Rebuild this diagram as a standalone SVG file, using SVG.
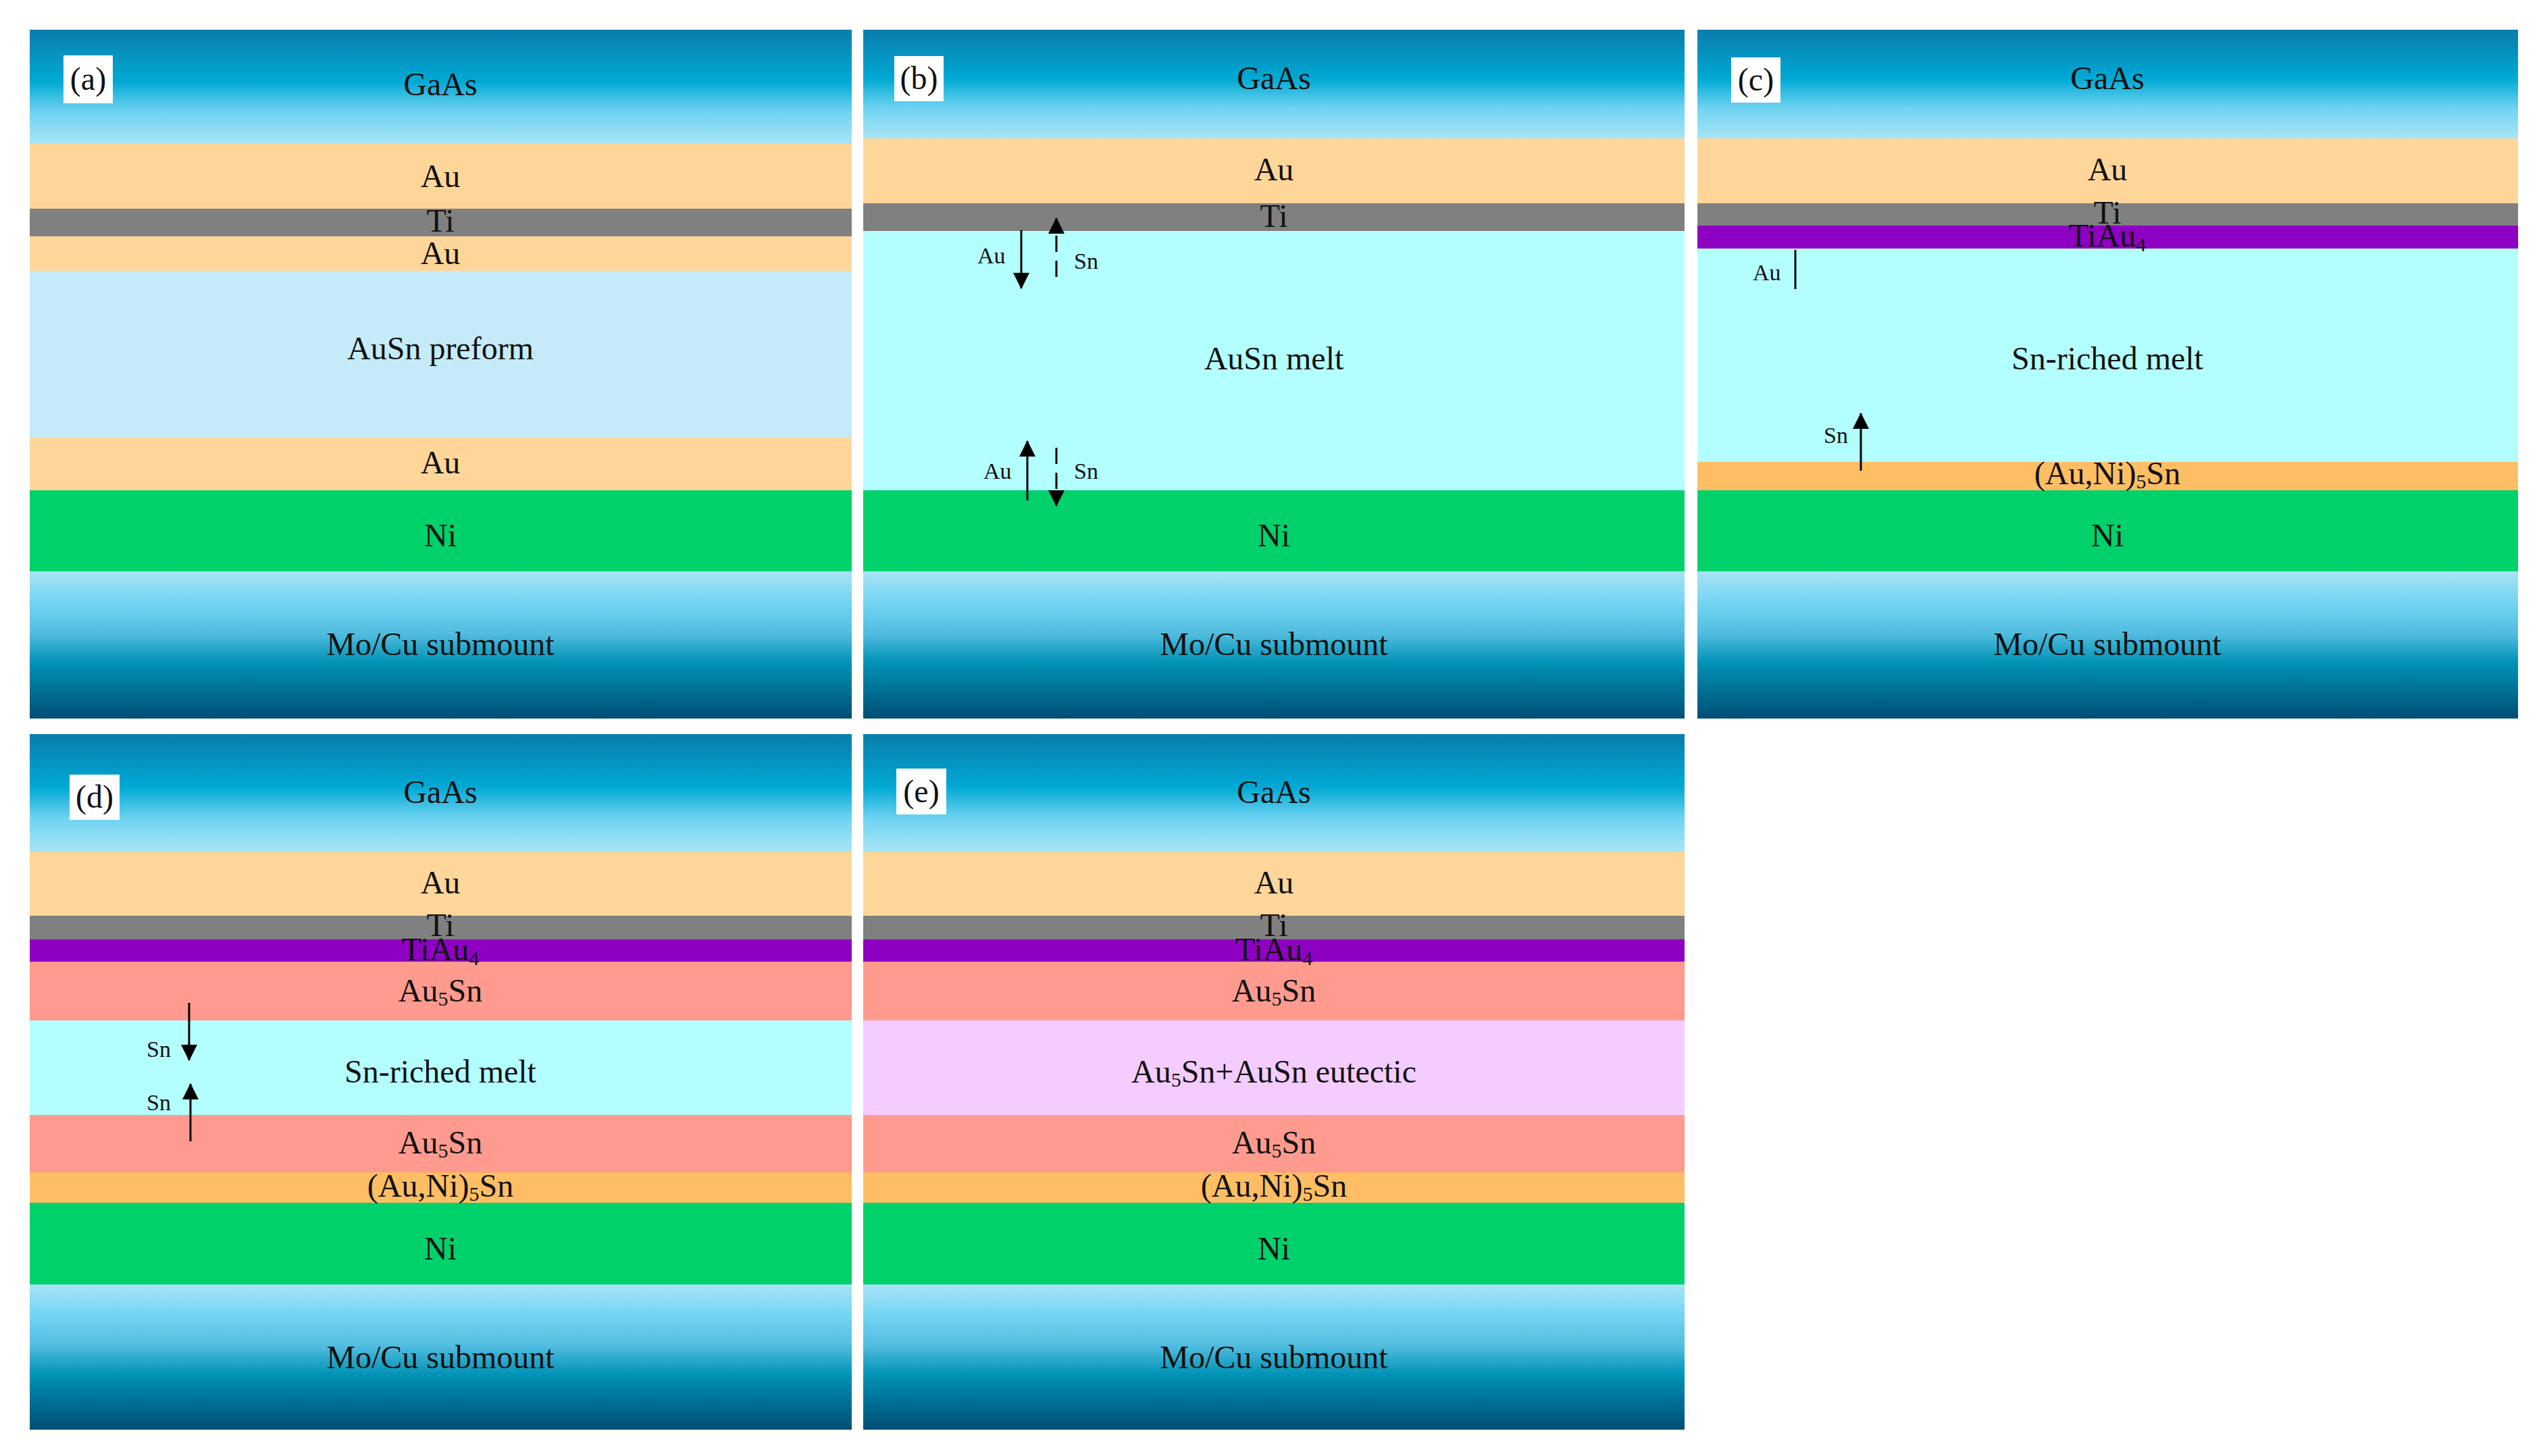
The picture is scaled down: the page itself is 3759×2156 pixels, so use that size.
<svg xmlns="http://www.w3.org/2000/svg" width="3759" height="2156" viewBox="0 0 3759 2156">
<defs>
<linearGradient id="gaas" x1="0" y1="0" x2="0" y2="1">
<stop offset="0" stop-color="#0a7dac"/>
<stop offset="0.45" stop-color="#00a9d4"/>
<stop offset="0.72" stop-color="#6fd3f2"/>
<stop offset="1" stop-color="#a9e4f5"/>
</linearGradient>
<linearGradient id="mocu" x1="0" y1="0" x2="0" y2="1">
<stop offset="0" stop-color="#a8e3f6"/>
<stop offset="0.22" stop-color="#71d4f2"/>
<stop offset="0.42" stop-color="#52bde0"/>
<stop offset="0.62" stop-color="#0093b6"/>
<stop offset="1" stop-color="#004d74"/>
</linearGradient>
<marker id="ah" markerUnits="userSpaceOnUse" markerWidth="24" markerHeight="24" viewBox="0 0 22 22" refX="21" refY="11" orient="auto">
<path d="M0,0 L22,11 L0,22 z" fill="#000"/>
</marker>
<style>
.t{font-family:"Liberation Serif","Times New Roman",serif;font-size:48px;fill:#111;text-anchor:middle}
.s{font-family:"Liberation Serif","Times New Roman",serif;font-size:34px;fill:#111}
.sub{font-size:30px}
.gaas{fill:url(#gaas)}
.mocu{fill:url(#mocu)}
.au{fill:#FFD699}
.ti{fill:#808080}
.pre{fill:#C5EBF8}
.melt{fill:#B3FFFF}
.ni{fill:#00D16B}
.tiau{fill:#8E00C2}
.au5{fill:#FF9A8E}
.auni{fill:#FFBE63}
.eut{fill:#F5CCFF}
.lb{fill:#fff}
.ar{stroke:#000;stroke-width:3;fill:none}
.dash{stroke-dasharray:24 13}
</style>
</defs>
<rect width="3759" height="2156" fill="#fff"/>

<g id="panel-a">
<rect class="gaas" x="44" y="44" width="1217" height="169"/>
<rect class="au" x="44" y="213" width="1217" height="96"/>
<rect class="ti" x="44" y="309" width="1217" height="41"/>
<rect class="au" x="44" y="350" width="1217" height="51"/>
<rect class="pre" x="44" y="401" width="1217" height="246"/>
<rect class="au" x="44" y="647" width="1217" height="79"/>
<rect class="ni" x="44" y="726" width="1217" height="120"/>
<rect class="mocu" x="44" y="846" width="1217" height="218"/>
<rect class="lb" x="94" y="82" width="73" height="71"/>
<text class="t" x="130.5" y="133">(a)</text>
<text class="t" x="652" y="141">GaAs</text>
<text class="t" x="652" y="277">Au</text>
<text class="t" x="652" y="343">Ti</text>
<text class="t" x="652" y="391">Au</text>
<text class="t" x="652" y="532">AuSn preform</text>
<text class="t" x="652" y="701">Au</text>
<text class="t" x="652" y="809">Ni</text>
<text class="t" x="652" y="970">Mo/Cu submount</text>
</g>

<g id="panel-b">
<rect class="gaas" x="1278" y="44" width="1216" height="161"/>
<rect class="au" x="1278" y="205" width="1216" height="96"/>
<rect class="ti" x="1278" y="301" width="1216" height="41"/>
<rect class="melt" x="1278" y="342" width="1216" height="384"/>
<rect class="ni" x="1278" y="726" width="1216" height="120"/>
<rect class="mocu" x="1278" y="846" width="1216" height="218"/>
<rect class="lb" x="1324" y="83" width="73" height="67"/>
<text class="t" x="1360.5" y="132">(b)</text>
<text class="t" x="1886" y="132">GaAs</text>
<text class="t" x="1886" y="267">Au</text>
<text class="t" x="1886" y="336">Ti</text>
<text class="t" x="1886" y="547">AuSn melt</text>
<text class="t" x="1886" y="809">Ni</text>
<text class="t" x="1886" y="970">Mo/Cu submount</text>
<text class="s" x="1447" y="390">Au</text>
<text class="s" x="1590" y="398">Sn</text>
<text class="s" x="1456" y="709">Au</text>
<text class="s" x="1590" y="709">Sn</text>
</g>

<g id="panel-c">
<rect class="gaas" x="2513" y="44" width="1215" height="161"/>
<rect class="au" x="2513" y="205" width="1215" height="96"/>
<rect class="ti" x="2513" y="301" width="1215" height="33"/>
<rect class="tiau" x="2513" y="334" width="1215" height="34"/>
<rect class="melt" x="2513" y="368" width="1215" height="316"/>
<rect class="auni" x="2513" y="684" width="1215" height="42"/>
<rect class="ni" x="2513" y="726" width="1215" height="120"/>
<rect class="mocu" x="2513" y="846" width="1215" height="218"/>
<rect class="lb" x="2563" y="85" width="73" height="67"/>
<text class="t" x="2599.5" y="134">(c)</text>
<text class="t" x="3120" y="132">GaAs</text>
<text class="t" x="3120" y="267">Au</text>
<text class="t" x="3120" y="331">Ti</text>
<text class="t" x="3120" y="365">TiAu<tspan class="sub" dy="7">4</tspan></text>
<text class="t" x="3120" y="547">Sn-riched melt</text>
<text class="t" x="3120" y="717">(Au,Ni)<tspan class="sub" dy="6">5</tspan><tspan dy="-6">Sn</tspan></text>
<text class="t" x="3120" y="809">Ni</text>
<text class="t" x="3120" y="970">Mo/Cu submount</text>
<text class="s" x="2595" y="415">Au</text>
<text class="s" x="2700" y="656">Sn</text>
</g>

<g id="panel-d">
<rect class="gaas" x="44" y="1087" width="1217" height="174"/>
<rect class="au" x="44" y="1261" width="1217" height="95"/>
<rect class="ti" x="44" y="1356" width="1217" height="35"/>
<rect class="tiau" x="44" y="1391" width="1217" height="33"/>
<rect class="au5" x="44" y="1424" width="1217" height="87"/>
<rect class="melt" x="44" y="1511" width="1217" height="140"/>
<rect class="au5" x="44" y="1651" width="1217" height="85"/>
<rect class="auni" x="44" y="1736" width="1217" height="45"/>
<rect class="ni" x="44" y="1781" width="1217" height="121"/>
<rect class="mocu" x="44" y="1902" width="1217" height="215"/>
<rect class="lb" x="103" y="1147" width="74" height="67"/>
<text class="t" x="140" y="1196">(d)</text>
<text class="t" x="652" y="1189">GaAs</text>
<text class="t" x="652" y="1323">Au</text>
<text class="t" x="652" y="1386">Ti</text>
<text class="t" x="652" y="1422">TiAu<tspan class="sub" dy="7">4</tspan></text>
<text class="t" x="652" y="1483">Au<tspan class="sub" dy="6">5</tspan><tspan dy="-6">Sn</tspan></text>
<text class="t" x="652" y="1603">Sn-riched melt</text>
<text class="t" x="652" y="1708">Au<tspan class="sub" dy="6">5</tspan><tspan dy="-6">Sn</tspan></text>
<text class="t" x="652" y="1772">(Au,Ni)<tspan class="sub" dy="6">5</tspan><tspan dy="-6">Sn</tspan></text>
<text class="t" x="652" y="1865">Ni</text>
<text class="t" x="652" y="2026">Mo/Cu submount</text>
<text class="s" x="217" y="1565">Sn</text>
<text class="s" x="217" y="1644">Sn</text>
</g>

<g id="panel-e">
<rect class="gaas" x="1278" y="1087" width="1216" height="174"/>
<rect class="au" x="1278" y="1261" width="1216" height="95"/>
<rect class="ti" x="1278" y="1356" width="1216" height="35"/>
<rect class="tiau" x="1278" y="1391" width="1216" height="33"/>
<rect class="au5" x="1278" y="1424" width="1216" height="87"/>
<rect class="eut" x="1278" y="1511" width="1216" height="140"/>
<rect class="au5" x="1278" y="1651" width="1216" height="85"/>
<rect class="auni" x="1278" y="1736" width="1216" height="45"/>
<rect class="ni" x="1278" y="1781" width="1216" height="121"/>
<rect class="mocu" x="1278" y="1902" width="1216" height="215"/>
<rect class="lb" x="1327" y="1138" width="74" height="68"/>
<text class="t" x="1364" y="1188">(e)</text>
<text class="t" x="1886" y="1189">GaAs</text>
<text class="t" x="1886" y="1323">Au</text>
<text class="t" x="1886" y="1386">Ti</text>
<text class="t" x="1886" y="1422">TiAu<tspan class="sub" dy="7">4</tspan></text>
<text class="t" x="1886" y="1483">Au<tspan class="sub" dy="6">5</tspan><tspan dy="-6">Sn</tspan></text>
<text class="t" x="1886" y="1603">Au<tspan class="sub" dy="6">5</tspan><tspan dy="-6">Sn+AuSn eutectic</tspan></text>
<text class="t" x="1886" y="1708">Au<tspan class="sub" dy="6">5</tspan><tspan dy="-6">Sn</tspan></text>
<text class="t" x="1886" y="1772">(Au,Ni)<tspan class="sub" dy="6">5</tspan><tspan dy="-6">Sn</tspan></text>
<text class="t" x="1886" y="1865">Ni</text>
<text class="t" x="1886" y="2026">Mo/Cu submount</text>
</g>

<g id="connectors">
<line class="ar" x1="1512" y1="341" x2="1512" y2="427" marker-end="url(#ah)"/>
<line class="ar dash" x1="1564" y1="410" x2="1564" y2="323" marker-end="url(#ah)"/>
<line class="ar" x1="1521" y1="741" x2="1521" y2="653" marker-end="url(#ah)"/>
<line class="ar dash" x1="1564" y1="663" x2="1564" y2="749" marker-end="url(#ah)"/>
<line class="ar" x1="2658" y1="370" x2="2658" y2="428"/>
<line class="ar" x1="2755" y1="697" x2="2755" y2="612" marker-end="url(#ah)"/>
<line class="ar" x1="280" y1="1485" x2="280" y2="1570" marker-end="url(#ah)"/>
<line class="ar" x1="282" y1="1690" x2="282" y2="1605" marker-end="url(#ah)"/>
</g>
</svg>
